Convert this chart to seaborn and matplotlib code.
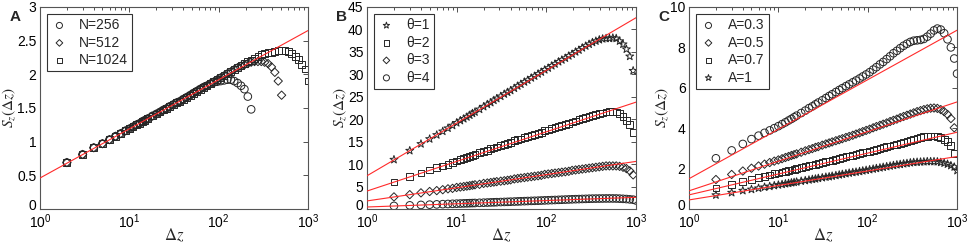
import matplotlib
matplotlib.use("Agg")
import matplotlib.pyplot as plt
import matplotlib.transforms as mtransforms
import seaborn as sns
from matplotlib.ticker import LogLocator, NullFormatter

# shared grid of lag values (delta z)
DZ = [2, 3, 4, 5, 6, 7, 8, 9, 10, 11, 12, 13, 14, 15, 16, 18, 20, 22, 24, 26,
      28, 31, 34, 37, 40, 44, 48, 52, 57, 62, 68, 74, 81, 88, 96, 105, 115, 125, 137, 149,
      163, 178, 194, 212, 231, 252, 275, 300, 327, 357, 390, 425, 464, 506, 552, 602, 657, 717, 782, 853,
      930, 1000]

# panel A: different N
N1024 = [0.69, 0.81, 0.91, 0.97, 1.03, 1.08, 1.12, 1.16, 1.19, 1.22,
         1.25, 1.27, 1.30, 1.32, 1.34, 1.38, 1.41, 1.44, 1.47, 1.49,
         1.52, 1.55, 1.58, 1.60, 1.63, 1.66, 1.69, 1.72, 1.75, 1.78,
         1.81, 1.83, 1.86, 1.89, 1.92, 1.95, 1.98, 2.01, 2.04, 2.07,
         2.10, 2.13, 2.16, 2.19, 2.21, 2.24, 2.26, 2.29, 2.31, 2.32,
         2.33, 2.34, 2.35, 2.35, 2.35, 2.34, 2.31, 2.27, 2.22, 2.15,
         2.08, 1.90]
N256 = [0.69, 0.81, 0.91, 0.97, 1.03, 1.08, 1.12, 1.16, 1.19, 1.22,
        1.25, 1.27, 1.30, 1.32, 1.34, 1.38, 1.41, 1.44, 1.47, 1.49,
        1.52, 1.55, 1.58, 1.60, 1.63, 1.66, 1.69, 1.72, 1.75, 1.78,
        1.81, 1.83, 1.86, 1.88, 1.89, 1.90, 1.91, 1.92, 1.92, 1.90,
        1.87, 1.83, 1.78, 1.67, 1.48]
N512 = [0.69, 0.81, 0.91, 0.97, 1.03, 1.08, 1.12, 1.16, 1.19, 1.22,
        1.25, 1.27, 1.30, 1.32, 1.34, 1.38, 1.41, 1.44, 1.47, 1.49,
        1.52, 1.55, 1.58, 1.60, 1.63, 1.66, 1.69, 1.72, 1.75, 1.78,
        1.81, 1.83, 1.86, 1.89, 1.92, 1.95, 1.98, 2.01, 2.04, 2.07,
        2.10, 2.12, 2.14, 2.16, 2.18, 2.19, 2.19, 2.19, 2.18, 2.16,
        2.11, 2.03, 1.90, 1.69]

# panel B: different theta
TH1 = [11.0, 13.0, 14.5, 15.6, 16.5, 17.3, 18.0, 18.6, 19.2, 19.7,
       20.1, 20.5, 20.9, 21.3, 21.6, 22.2, 22.8, 23.3, 23.7, 24.2,
       24.6, 25.1, 25.6, 26.0, 26.4, 26.9, 27.4, 27.8, 28.3, 28.7,
       29.2, 29.6, 30.1, 30.5, 31.0, 31.4, 31.9, 32.3, 32.8, 33.2,
       33.6, 34.1, 34.5, 35.0, 35.4, 35.9, 36.3, 36.7, 37.1, 37.4,
       37.7, 37.9, 38.0, 38.0, 38.1, 38.0, 37.4, 36.7, 35.6, 34.0,
       30.8]
TH2 = [6.0, 7.2, 8.0, 8.7, 9.2, 9.6, 10.0, 10.4, 10.7, 11.0,
       11.3, 11.5, 11.7, 11.9, 12.1, 12.5, 12.8, 13.1, 13.4, 13.6,
       13.8, 14.1, 14.4, 14.6, 14.9, 15.2, 15.4, 15.6, 15.9, 16.1,
       16.4, 16.6, 16.9, 17.1, 17.4, 17.6, 17.9, 18.1, 18.4, 18.6,
       18.9, 19.1, 19.4, 19.6, 19.9, 20.1, 20.3, 20.6, 20.8, 21.0,
       21.2, 21.4, 21.6, 21.7, 21.7, 21.6, 21.2, 20.6, 19.8, 18.9,
       17.1]
TH3 = [2.7, 3.2, 3.6, 3.9, 4.1, 4.3, 4.5, 4.6, 4.8, 4.9,
       5.0, 5.1, 5.2, 5.3, 5.4, 5.5, 5.7, 5.8, 5.9, 6.0,
       6.1, 6.2, 6.3, 6.4, 6.5, 6.7, 6.8, 6.9, 7.0, 7.1,
       7.2, 7.3, 7.4, 7.5, 7.7, 7.8, 7.9, 8.0, 8.1, 8.2,
       8.3, 8.4, 8.6, 8.7, 8.8, 8.9, 9.0, 9.1, 9.2, 9.3,
       9.4, 9.5, 9.6, 9.6, 9.6, 9.6, 9.5, 9.3, 9.0, 8.5,
       7.6]
TH4 = N1024

# panel C: different A
A03 = [2.51, 2.90, 3.22, 3.46, 3.63, 3.77, 3.89, 4.00, 4.10, 4.20,
       4.29, 4.38, 4.46, 4.54, 4.62, 4.75, 4.87, 4.99, 5.08, 5.18,
       5.27, 5.38, 5.49, 5.59, 5.68, 5.79, 5.89, 5.98, 6.08, 6.17,
       6.27, 6.36, 6.46, 6.56, 6.66, 6.77, 6.90, 7.02, 7.16, 7.28,
       7.42, 7.56, 7.71, 7.83, 7.96, 8.08, 8.18, 8.27, 8.33, 8.35,
       8.37, 8.42, 8.53, 8.68, 8.84, 8.93, 8.88, 8.70, 8.40, 8.00,
       7.45, 6.70]
A05 = [1.46, 1.71, 1.88, 2.02, 2.13, 2.22, 2.30, 2.37, 2.43, 2.49,
       2.55, 2.60, 2.65, 2.69, 2.73, 2.81, 2.88, 2.94, 2.99, 3.05,
       3.09, 3.16, 3.22, 3.27, 3.32, 3.38, 3.43, 3.48, 3.54, 3.59,
       3.65, 3.71, 3.77, 3.83, 3.89, 3.95, 4.02, 4.08, 4.14, 4.20,
       4.26, 4.33, 4.39, 4.45, 4.52, 4.58, 4.64, 4.70, 4.76, 4.82,
       4.87, 4.92, 4.96, 4.99, 5.00, 4.98, 4.92, 4.82, 4.68, 4.48,
       4.02]
A07 = [1.04, 1.22, 1.36, 1.46, 1.55, 1.62, 1.68, 1.74, 1.78, 1.83,
       1.86, 1.90, 1.93, 1.96, 1.99, 2.05, 2.10, 2.14, 2.18, 2.22,
       2.25, 2.30, 2.34, 2.38, 2.41, 2.46, 2.50, 2.54, 2.58, 2.62,
       2.66, 2.70, 2.74, 2.78, 2.82, 2.86, 2.91, 2.95, 2.99, 3.03,
       3.08, 3.12, 3.17, 3.21, 3.26, 3.30, 3.35, 3.40, 3.45, 3.50,
       3.54, 3.58, 3.60, 3.61, 3.61, 3.58, 3.53, 3.45, 3.33, 3.15,
       2.75]
A10 = N1024

# fitted lines: value at dz=1 and at dz=1000
FIT_X = [1, 1000]
FIT_A = [(0.46, 2.65)]
FIT_B = [(7.4, 42.6), (4.0, 23.8), (1.8, 10.6), (0.45, 2.6)]
FIT_C = [(1.5, 8.85), (0.9, 5.3), (0.7, 3.8), (0.45, 2.6)]

# y tick labels per panel
YT_A = ["0", "0.5", "1", "1.5", "2", "2.5", "3"]
YT_B = ["0", "5", "10", "15", "20", "25", "30", "35", "40", "45"]
YT_C = ["0", "2", "4", "6", "8", "10"]

sns.set_style("white")
plt.rcParams["font.family"] = ["Liberation Sans", "DejaVu Sans"]
plt.rcParams["mathtext.fontset"] = "stix"
plt.rcParams["xtick.direction"] = "in"
plt.rcParams["ytick.direction"] = "in"

fig = plt.figure(figsize=(9.68, 2.44), dpi=100)
positions = [(0.0413, 0.1434, 0.2769, 0.828),
             (0.3791, 0.1434, 0.2779, 0.828),
             (0.7118, 0.1434, 0.2769, 0.828)]

panels = [
    ("A", [("N=256", N256, "o"), ("N=512", N512, "D"), ("N=1024", N1024, "s")],
     FIT_A, 0.5, YT_A),
    ("B", [("θ=1", TH1, "*"), ("θ=2", TH2, "s"), ("θ=3", TH3, "D"), ("θ=4", TH4, "o")],
     FIT_B, 5, YT_B),
    ("C", [("A=0.3", A03, "o"), ("A=0.5", A05, "D"), ("A=0.7", A07, "s"), ("A=1", A10, "*")],
     FIT_C, 2, YT_C),
]

msize = {"o": 30, "D": 18, "s": 24, "*": 36}
mk_color = "#262626"

for pos, (letter, series, fits, ystep, ylabels) in zip(positions, panels):
    ax = fig.add_axes(pos)
    for name, ys, m in series:
        sns.scatterplot(x=DZ[:len(ys)], y=ys, marker=m, s=msize[m], facecolor="none",
                        edgecolor=mk_color, linewidth=0.7, label=name, ax=ax, zorder=2)
    for y0, y1 in fits:
        sns.lineplot(x=FIT_X, y=[y0, y1], color="#ff2a2a", linewidth=0.8, ax=ax, zorder=3)
    ax.set_xscale("log")
    ax.set_xlim(1, 1000)
    yticks = [i * ystep for i in range(len(ylabels))]
    ax.set_ylim(0, yticks[-1])
    ax.set_yticks(yticks)
    ax.set_yticklabels(ylabels)
    ax.xaxis.set_major_locator(LogLocator(base=10, numticks=10))
    ax.xaxis.set_minor_locator(LogLocator(base=10, subs=range(2, 10), numticks=10))
    ax.xaxis.set_minor_formatter(NullFormatter())
    ax.tick_params(which="both", top=True, right=True, labelsize=10, colors="#333333",
                   labelcolor="black", width=0.6)
    ax.tick_params(which="major", length=3.5)
    ax.tick_params(which="minor", length=2)
    ax.tick_params(axis="x", pad=2.5)
    ax.tick_params(axis="y", pad=2.5)
    # nudge the "0" label up a little so it clears the 10^0 label
    zero_tick = ax.yaxis.get_major_ticks()[0]
    zero_tick.label1.set_transform(zero_tick.label1.get_transform() +
                                   mtransforms.ScaledTranslation(0, 3 / 72, fig.dpi_scale_trans))
    for sp in ax.spines.values():
        sp.set_color("#555555")
        sp.set_linewidth(0.8)
    ax.set_xlabel(r"$\Delta z$", fontsize=12, labelpad=-3)
    ax.set_ylabel(r"$S_z(\Delta z)$", fontsize=11, labelpad=0)
    leg = ax.legend(loc="upper left", fontsize=10, frameon=True, fancybox=False,
                    edgecolor="black", borderpad=0.3, labelspacing=0.25,
                    handlelength=1.2, handletextpad=0.8, borderaxespad=0.5,
                    markerscale=0.8)
    leg.get_frame().set_linewidth(0.8)
    ax.text(-0.115, 0.985, letter, transform=ax.transAxes, fontsize=11,
            fontweight="bold", va="top", ha="left")

fig.savefig("out.png", dpi=100)
